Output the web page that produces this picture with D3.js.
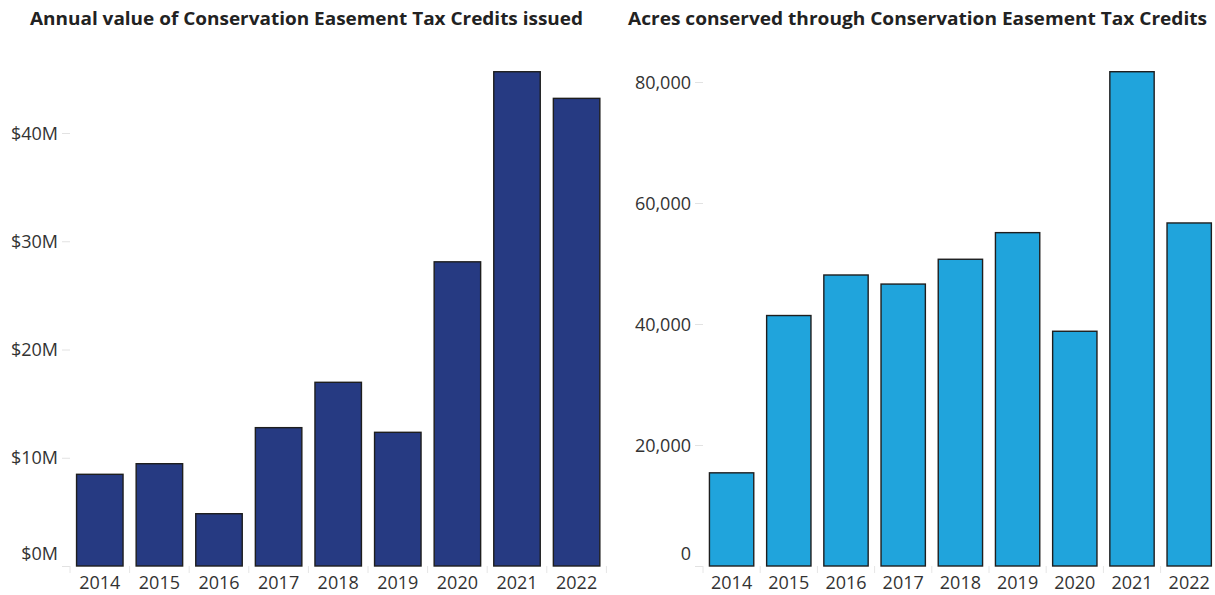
<!DOCTYPE html>
<html>
<head>
<meta charset="utf-8">
<script src="https://cdn.jsdelivr.net/npm/d3@7"></script>
<style>
  html, body { margin: 0; padding: 0; background: #fff; }
  svg { display: block; }
  .title { font-family: "Open Sans", "Noto Sans", sans-serif; font-weight: 700; font-size: 18px; fill: #222; }
  .tick text { font-family: "Open Sans", "Noto Sans", sans-serif; font-size: 18px; fill: #333; }
</style>
</head>
<body>
<svg id="chart" width="1215" height="595"></svg>
<script>
// Conservation Easement Tax Credits, 2014–2022
const years = ["2014", "2015", "2016", "2017", "2018", "2019", "2020", "2021", "2022"];
// Annual value of credits issued, millions of dollars
const creditValueM = [8.47, 9.45, 4.83, 12.78, 16.97, 12.35, 28.1, 45.66, 43.2];
// Acres conserved
const acresConserved = [15400, 41400, 48100, 46600, 50700, 55100, 38800, 81700, 56700];

const valueTicks = [0, 10, 20, 30, 40];
const acreTicks = [0, 20000, 40000, 60000, 80000];

const svg = d3.select("#chart");
const baseY = 566;

function drawPanel(cfg) {
  const g = svg.append("g");

  g.append("text")
    .attr("class", "title")
    .attr("x", cfg.titleX)
    .attr("y", 25)
    .attr("textLength", cfg.titleW)
    .attr("lengthAdjust", "spacingAndGlyphs")
    .text(cfg.title);

  const x = d3.scaleBand()
    .domain(years)
    .range(cfg.xRange)
    .paddingInner(cfg.padInner)
    .paddingOuter(cfg.padInner / 2);

  const y = d3.scaleLinear()
    .domain([0, cfg.yMax])
    .range([baseY, baseY - cfg.yMax * cfg.pxPerUnit]);

  // y axis: faint ticks, labels right-aligned; the zero label sits above the baseline
  const yAxis = g.append("g")
    .attr("transform", `translate(${cfg.xRange[0]},0)`)
    .call(d3.axisLeft(y).tickValues(cfg.yTicks).tickSize(8).tickPadding(4).tickFormat(cfg.fmt));
  yAxis.select(".domain").remove();
  yAxis.selectAll(".tick line").attr("stroke", "#e2e2e2");
  yAxis.selectAll(".tick text")
    .attr("dy", d => d === 0 ? "-0.38em" : "0.34em");

  // x axis: labels under bars, faint separators between bands
  const xAxis = g.append("g")
    .attr("transform", `translate(0,${baseY})`)
    .call(d3.axisBottom(x).tickSize(0).tickPadding(10));
  xAxis.select(".domain").remove();

  const step = x.step();
  const seps = d3.range(years.length + 1).map(i => cfg.xRange[0] + i * step);
  g.append("g").selectAll("line")
    .data(seps)
    .join("line")
    .attr("x1", d => d).attr("x2", d => d)
    .attr("y1", baseY).attr("y2", baseY + 7)
    .attr("stroke", "#e6e6e6");

  g.append("g").selectAll("rect")
    .data(cfg.values)
    .join("rect")
    .attr("x", (d, i) => x(years[i]))
    .attr("y", d => y(d))
    .attr("width", x.bandwidth())
    .attr("height", d => baseY - y(d))
    .attr("fill", cfg.fill)
    .attr("stroke", "#1e1e1e")
    .attr("stroke-width", 1.4);
}

drawPanel({
  title: "Annual value of Conservation Easement Tax Credits issued",
  titleX: 30, titleW: 553,
  xRange: [70, 606.4], padInner: 0.22,
  yMax: 50, pxPerUnit: 10.825,
  yTicks: valueTicks,
  fmt: d => `$${d}M`,
  values: creditValueM,
  fill: "#263a82"
});

drawPanel({
  title: "Acres conserved through Conservation Easement Tax Credits",
  titleX: 628, titleW: 579,
  xRange: [703, 1217.8], padInner: 0.225,
  yMax: 90000, pxPerUnit: 0.00605,
  yTicks: acreTicks,
  fmt: d3.format(","),
  values: acresConserved,
  fill: "#20a4dc"
});
</script>
</body>
</html>
